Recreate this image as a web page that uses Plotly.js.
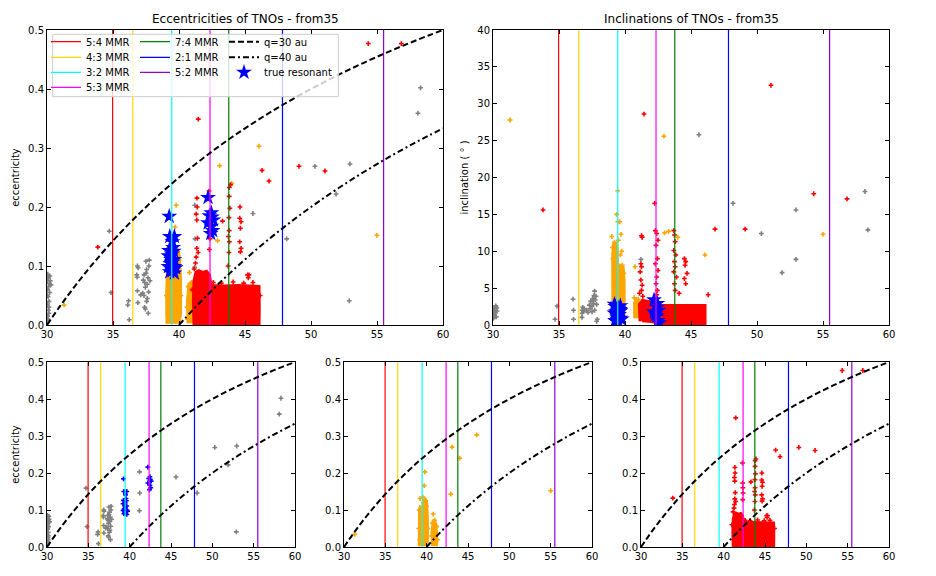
<!DOCTYPE html>
<html><head><meta charset="utf-8">
<script src="https://cdn.plot.ly/plotly-3.0.1.min.js"></script>
<style>html,body{margin:0;padding:0;background:#fff}#chart{width:936px;height:576px}</style>
</head><body><div id="chart"></div>
<script>
// ---------------- data ----------------
const xTicks = [30, 35, 40, 45, 50, 55, 60];
const eTicks = [0, 0.1, 0.2, 0.3, 0.4, 0.5];
const eTickText = ['0.0', '0.1', '0.2', '0.3', '0.4', '0.5'];
const iTicks = [0, 5, 10, 15, 20, 25, 30, 35, 40];

const mmrNames = ['5:4 MMR', '4:3 MMR', '3:2 MMR', '5:3 MMR', '7:4 MMR', '2:1 MMR', '5:2 MMR'];
const mmrA = [34.97, 36.5, 39.45, 42.35, 43.77, 47.84, 55.5];

const q30A = [30,31,32,33,34,35,36,37,38,39,40,41,42,43,44,45,46,47,48,49,50,51,52,53,54,55,56,57,58,59,60];
const q30E = [0,0.0323,0.0625,0.0909,0.1176,0.1429,0.1667,0.1892,0.2105,0.2308,0.25,0.2683,0.2857,0.3023,0.3182,0.3333,0.3478,0.3617,0.375,0.3878,0.4,0.4118,0.4231,0.434,0.4444,0.4545,0.4643,0.4737,0.4828,0.4915,0.5];
const q40A = [40,41,42,43,44,45,46,47,48,49,50,51,52,53,54,55,56,57,58,59,60];
const q40E = [0,0.0244,0.0476,0.0698,0.0909,0.1111,0.1304,0.1489,0.1667,0.1837,0.2,0.2157,0.2308,0.2453,0.2593,0.2727,0.2857,0.2982,0.3103,0.322,0.3333];

// grey (non-resonant) objects
const grayAe = [30.02,30.05,30.10,30.03,30.15,30.08,30.20,30.05,30.12,30.18,30.04,30.10,30.22,30.06,30.15,30.25,30.30,30.02,30.08,30.14,
  34.72,34.85,36.23,36.12,36.18,36.80,36.85,36.90,36.85,36.88,36.83,37.10,37.30,37.35,37.40,37.45,37.50,37.55,37.60,37.65,37.70,37.75,37.72,37.60,37.45,37.67,37.55,37.80,37.35,37.25,37.50,37.40,
  41.20,41.22,41.18,45.60,48.16,50.30,51.90,52.95,52.90,58.10,58.30];
const grayE = [0.005,0.015,0.025,0.035,0.040,0.048,0.055,0.060,0.065,0.070,0.075,0.080,0.083,0.086,0.030,0.075,0.068,0.050,0.010,0.020,
  0.159,0.055,0.009,0.034,0.041,0.085,0.100,0.097,0.058,0.038,0.081,0.051,0.076,0.085,0.072,0.064,0.108,0.094,0.069,0.080,0.056,0.110,0.100,0.045,0.027,0.020,0.040,0.075,0.050,0.054,0.088,0.030,
  0.203,0.146,0.098,0.189,0.146,0.269,0.222,0.273,0.041,0.359,0.402];
const grayAi = [30.02,30.05,30.10,30.03,30.15,30.08,30.20,30.05,30.12,30.18,30.04,30.10,30.22,30.25,30.30,30.28,
  34.70,34.85,36.06,36.10,36.10,36.74,36.75,36.80,36.85,36.90,36.75,37.10,37.20,37.30,37.35,37.40,37.50,37.55,37.60,37.65,37.70,37.75,37.80,37.85,37.50,37.70,37.90,37.85,37.60,
  41.21,45.60,48.18,50.33,51.90,52.95,52.95,58.18,58.40];
const grayI = [0.9,1.2,1.5,1.8,2.1,2.4,2.6,1.0,1.3,1.7,2.0,2.2,2.5,1.1,1.9,2.3,
  0.77,2.57,3.5,2.0,0.77,1.04,2.0,2.4,1.8,2.2,1.6,2.0,1.7,2.7,2.2,3.2,2.5,3.6,2.9,4.0,4.6,3.4,3.9,2.8,1.8,2.0,0.77,0.5,3.3,
  8.9,25.8,16.5,12.4,7.1,15.6,8.9,18.1,12.9];

// orange objects
const orangeAe = [31.30,39.78,39.70,39.20,39.87,39.55,42.92,43.08,44.00,46.06,55.00,40.79,
  39.05,39.10,39.30,39.60,39.75,40.00,40.15,39.90,39.15,39.45,40.60,40.70,41.20,41.30,40.95,40.65,41.10];
const orangeE = [0.034,0.203,0.166,0.131,0.122,0.135,0.143,0.270,0.240,0.303,0.152,0.089,
  0.050,0.100,0.105,0.120,0.128,0.110,0.050,0.125,0.020,0.060,0.030,0.065,0.055,0.020,0.072,0.010,0.040];
const orangeCoreA1 = [39.05,39.03,39.08,39.20,39.40,39.50,39.60,39.85,40.05,40.15,40.15,40.05];
const orangeCoreE1 = [0.002,0.050,0.095,0.110,0.108,0.095,0.125,0.130,0.118,0.080,0.020,0.002];
const orangeCoreA2 = [40.65,40.60,40.72,40.95,41.20,41.28,41.20];
const orangeCoreE2 = [0.003,0.040,0.070,0.074,0.060,0.010,0.002];
const orangeAi = [31.29,40.76,39.44,39.37,39.45,39.60,39.70,39.00,42.95,43.00,43.30,44.00,46.06,55.00,
  39.05,39.20,39.35,39.10,39.60,39.80,39.90,39.65,39.75,39.50,40.70,41.00];
const orangeI = [27.8,7.9,18.2,15.0,14.0,14.0,12.3,12.0,25.6,12.5,12.7,11.9,9.5,12.3,
  10.5,11.2,10.8,9.0,8.0,8.1,7.0,9.5,10.0,11.5,3.7,3.5];
const orangeCoreAi1 = [39.05,39.03,39.10,39.30,39.45,39.48,39.48];
const orangeCoreI1 = [0.9,9.5,11.0,11.2,10.5,6.0,0.9];
const orangeCoreAi2 = [39.55,39.55,39.70,39.90,39.97,39.97];
const orangeCoreI2 = [0.9,7.0,8.1,7.8,6.0,0.9];
const orangeCoreAi3 = [40.70,40.68,40.85,41.05,41.10];
const orangeCoreI3 = [0.9,3.0,3.6,3.3,0.9];

// red objects
const redAe = [33.85,41.46,54.34,56.84,46.29,46.82,49.09,51.06,
  41.36,41.38,41.30,41.35,41.40,41.35,41.30,41.25,41.45,
  42.28,42.30,42.32,42.35,42.30,
  43.90,43.81,43.80,43.85,43.78,43.80,43.75,43.82,43.78,43.72,43.30,
  44.62,44.60,44.70,44.65,44.60,44.65,44.70,
  45.20,45.25,45.30,
  42.60,43.20,44.10,44.90,45.60,46.15,41.00,41.15];
const redE = [0.132,0.349,0.477,0.477,0.262,0.244,0.269,0.261,
  0.215,0.200,0.188,0.178,0.147,0.130,0.115,0.105,0.123,
  0.227,0.173,0.160,0.146,0.128,
  0.238,0.233,0.218,0.198,0.182,0.160,0.150,0.141,0.123,0.100,0.176,
  0.200,0.181,0.175,0.164,0.141,0.124,0.130,
  0.085,0.080,0.085,
  0.072,0.071,0.073,0.071,0.072,0.050,0.060,0.095];
const redCoreA = [41.10,41.05,41.10,41.25,41.50,41.80,42.10,42.35,42.45,43.50,44.50,45.50,46.10,46.12,46.10];
const redCoreE = [0.000,0.040,0.075,0.090,0.093,0.090,0.092,0.085,0.068,0.067,0.068,0.067,0.066,0.030,0.000];
const redAi = [33.79,41.44,51.06,54.30,56.82,46.82,49.10,46.30,44.10,
  41.25,41.30,41.20,41.25,41.15,41.20,41.30,41.25,41.10,41.35,
  42.25,42.30,42.40,42.50,42.35,42.45,42.30,42.50,42.40,42.35,42.45,42.40,
  43.70,43.75,43.80,43.70,43.85,43.75,43.80,43.70,43.90,43.75,43.80,
  44.50,44.60,44.55,44.70,44.50,44.60];
const redI = [15.6,28.6,32.5,17.8,17.1,13.0,13.0,4.1,4.3,
  12.1,11.9,8.3,7.9,7.2,6.1,5.4,4.7,4.3,3.9,
  16.5,12.8,12.4,11.5,10.8,9.0,8.3,7.4,6.5,5.6,4.7,4.1,
  12.8,12.2,11.3,10.1,9.5,8.6,7.9,7.2,6.5,5.6,4.7,
  9.0,8.6,8.1,7.0,6.3,5.6];
const redCoreAi = [41.10,41.05,41.30,41.80,42.30,42.60,46.10,46.10,42.70,42.00,41.30];
const redCoreI = [0.50,2.80,3.40,3.20,3.10,2.70,2.70,0.15,0.15,0.40,0.50];

// true resonant objects
const blueA = [39.26,39.30,39.65,39.50,39.55,39.25,39.20,39.40,39.65,39.50,39.20,39.65,39.75,39.40,39.50,39.65,39.30,39.45,39.60,39.35,
  42.20,42.45,42.50,42.20,42.45,42.40,42.60,42.55,42.30];
const blueE = [0.184,0.150,0.150,0.141,0.131,0.126,0.117,0.111,0.111,0.106,0.099,0.099,0.097,0.095,0.092,0.088,0.090,0.120,0.125,0.104,
  0.216,0.190,0.183,0.173,0.167,0.155,0.178,0.160,0.185];
const blueI = [2.5,1.8,0.9,2.2,1.4,0.6,2.8,1.1,2.0,0.4,1.6,2.6,0.8,1.3,2.3,1.9,0.5,1.0,2.1,1.5,
  3.4,2.9,0.6,1.8,2.4,1.2,0.3,2.0,1.5];

// ---------------- styles ----------------
const mmrColors = ['#ff0000', '#ffd700', '#00ffff', '#ff00ff', '#008000', '#0000ff', '#9400d3'];
const mmrLegend = ['legend', 'legend2', 'legend3', 'legend4', 'legend5', 'legend6', 'legend7'];
const C = {gray: '#808080', orange: '#ffa500', red: '#ff0000', blue: '#0000ff'};
const FONT = 'DejaVu Sans';

function pts(x, y, color, xa, ya) {
  return {type: 'scatter', mode: 'markers', x: x, y: y, xaxis: xa, yaxis: ya,
    marker: {color: color, size: 4, symbol: 'cross', line: {width: 0}},
    showlegend: false, hoverinfo: 'skip'};
}
function core(x, y, color, xa, ya) {
  return {type: 'scatter', mode: 'lines', x: x, y: y, xaxis: xa, yaxis: ya,
    fill: 'toself', fillcolor: color, line: {color: color, width: 2},
    showlegend: false, hoverinfo: 'skip'};
}
function stars(x, y, xa, ya, legend) {
  return {type: 'scatter', mode: 'markers', x: x, y: y, xaxis: xa, yaxis: ya, name: 'true resonant',
    marker: {color: C.blue, size: 12, symbol: 'star', line: {width: 0}},
    showlegend: !!legend, legend: 'legend10', hoverinfo: 'skip'};
}
function mmrLines(xa, ya, ymax, legend) {
  return mmrA.map((a, k) => ({type: 'scatter', mode: 'lines', x: [a, a], y: [0, ymax], xaxis: xa, yaxis: ya,
    name: mmrNames[k], line: {color: mmrColors[k], width: 1.2},
    showlegend: !!legend, legend: mmrLegend[k], hoverinfo: 'skip'}));
}
function qCurves(xa, ya, legend) {
  return [
    {type: 'scatter', mode: 'lines', x: q30A, y: q30E, xaxis: xa, yaxis: ya, name: 'q=30 au',
      line: {color: '#000', width: 2, dash: '6px,3px', shape: 'spline'}, showlegend: !!legend, legend: 'legend8', hoverinfo: 'skip'},
    {type: 'scatter', mode: 'lines', x: q40A, y: q40E, xaxis: xa, yaxis: ya, name: 'q=40 au',
      line: {color: '#000', width: 2, dash: '6px,3px,2px,3px', shape: 'spline'}, showlegend: !!legend, legend: 'legend9', hoverinfo: 'skip'}
  ];
}

let traces = [];
// top-left : eccentricity
traces.push(pts(grayAe, grayE, C.gray, 'x', 'y'));
traces.push(core(orangeCoreA1, orangeCoreE1, C.orange, 'x', 'y'));
traces.push(core(orangeCoreA2, orangeCoreE2, C.orange, 'x', 'y'));
traces.push(pts(orangeAe, orangeE, C.orange, 'x', 'y'));
traces.push(core(redCoreA, redCoreE, C.red, 'x', 'y'));
traces.push(pts(redAe, redE, C.red, 'x', 'y'));
traces.push(stars(blueA, blueE, 'x', 'y', true));
traces = traces.concat(mmrLines('x', 'y', 0.5, true));
traces = traces.concat(qCurves('x', 'y', true));
// top-right : inclination
traces.push(pts(grayAi, grayI, C.gray, 'x2', 'y2'));
traces.push(core(orangeCoreAi1, orangeCoreI1, C.orange, 'x2', 'y2'));
traces.push(core(orangeCoreAi2, orangeCoreI2, C.orange, 'x2', 'y2'));
traces.push(core(orangeCoreAi3, orangeCoreI3, C.orange, 'x2', 'y2'));
traces.push(pts(orangeAi, orangeI, C.orange, 'x2', 'y2'));
traces.push(core(redCoreAi, redCoreI, C.red, 'x2', 'y2'));
traces.push(pts(redAi, redI, C.red, 'x2', 'y2'));
traces.push(stars(blueA, blueI, 'x2', 'y2', false));
traces = traces.concat(mmrLines('x2', 'y2', 40, false));
// bottom-left : grey + true resonant
traces.push(pts(grayAe, grayE, C.gray, 'x3', 'y3'));
traces.push(pts(blueA, blueE, C.blue, 'x3', 'y3'));
traces = traces.concat(mmrLines('x3', 'y3', 0.5, false));
traces = traces.concat(qCurves('x3', 'y3', false));
// bottom-middle : orange
traces.push(core(orangeCoreA1, orangeCoreE1, C.orange, 'x4', 'y4'));
traces.push(core(orangeCoreA2, orangeCoreE2, C.orange, 'x4', 'y4'));
traces.push(pts(orangeAe, orangeE, C.orange, 'x4', 'y4'));
traces = traces.concat(mmrLines('x4', 'y4', 0.5, false));
traces = traces.concat(qCurves('x4', 'y4', false));
// bottom-right : red
traces.push(core(redCoreA, redCoreE, C.red, 'x5', 'y5'));
traces.push(pts(redAe, redE, C.red, 'x5', 'y5'));
traces = traces.concat(mmrLines('x5', 'y5', 0.5, false));
traces = traces.concat(qCurves('x5', 'y5', false));

// ---------------- layout ----------------
const W = 936, H = 576;
const tickFont = {family: FONT, size: 10, color: '#000'};
function axis(extra) {
  return Object.assign({showline: true, linecolor: '#000', linewidth: 1, mirror: 'ticks',
    ticks: 'inside', ticklen: 4, tickwidth: 1, tickcolor: '#000', showgrid: false, zeroline: false,
    tickfont: tickFont, fixedrange: true}, extra);
}
function xAx(d0, d1, anchor) { return axis({domain: [d0 / W, d1 / W], range: [30, 60], tickvals: xTicks, anchor: anchor}); }
function yE(d0, d1, anchor, title) {
  return axis({domain: [1 - d1 / H, 1 - d0 / H], range: [0, 0.5], tickvals: eTicks, ticktext: eTickText, anchor: anchor,
    title: title ? {text: title, font: {family: FONT, size: 10, color: '#000'}, standoff: 6} : undefined});
}
function legendAt(xPx, yPx) {
  return {orientation: 'v', x: xPx / W, xanchor: 'left', y: 1 - yPx / H, yanchor: 'middle',
    bgcolor: 'rgba(0,0,0,0)', borderwidth: 0, font: {family: FONT, size: 10, color: '#000'}, itemwidth: 30};
}
const legCol = [46, 135, 224];
const legRow = [41.7, 57.3, 72.3, 87.3];

const layout = {
  width: W, height: H, margin: {l: 0, r: 0, t: 0, b: 0},
  paper_bgcolor: '#fff', plot_bgcolor: '#fff', font: {family: FONT, size: 10, color: '#000'},
  xaxis: xAx(47, 443, 'y'),
  yaxis: yE(30, 325, 'x', 'eccentricity'),
  xaxis2: xAx(493, 889, 'y2'),
  yaxis2: axis({domain: [1 - 325 / H, 1 - 30 / H], range: [0, 40], tickvals: iTicks, anchor: 'x2',
    title: {text: 'inclination ( ° )', font: {family: FONT, size: 10, color: '#000'}, standoff: 6}}),
  xaxis3: xAx(47, 295, 'y3'),
  yaxis3: yE(362, 547, 'x3', 'eccentricity'),
  xaxis4: xAx(344, 592, 'y4'),
  yaxis4: yE(362, 547, 'x4', null),
  xaxis5: xAx(641, 889, 'y5'),
  yaxis5: yE(362, 547, 'x5', null),
  legend: legendAt(legCol[0], legRow[0]),
  legend2: legendAt(legCol[0], legRow[1]),
  legend3: legendAt(legCol[0], legRow[2]),
  legend4: legendAt(legCol[0], legRow[3]),
  legend5: legendAt(legCol[1], legRow[0]),
  legend6: legendAt(legCol[1], legRow[1]),
  legend7: legendAt(legCol[1], legRow[2]),
  legend8: legendAt(legCol[2], legRow[0]),
  legend9: legendAt(legCol[2], legRow[1]),
  legend10: legendAt(legCol[2], legRow[2]),
  shapes: [{type: 'rect', xref: 'paper', yref: 'paper', x0: 52.7 / W, x1: 338.3 / W, y0: 1 - 96.7 / H, y1: 1 - 34.3 / H,
    fillcolor: 'rgba(255,255,255,0.8)', line: {color: '#cccccc', width: 1}, layer: 'above'}],
  annotations: [
    {text: 'Eccentricities of TNOs - from35', xref: 'paper', yref: 'paper', x: 245 / W, y: 1 - 19 / H,
      xanchor: 'center', yanchor: 'middle', showarrow: false, font: {family: FONT, size: 12, color: '#000'}},
    {text: 'Inclinations of TNOs - from35', xref: 'paper', yref: 'paper', x: 691 / W, y: 1 - 19 / H,
      xanchor: 'center', yanchor: 'middle', showarrow: false, font: {family: FONT, size: 12, color: '#000'}}
  ]
};

Plotly.newPlot('chart', traces, layout, {staticPlot: true, displayModeBar: false});
</script></body></html>
